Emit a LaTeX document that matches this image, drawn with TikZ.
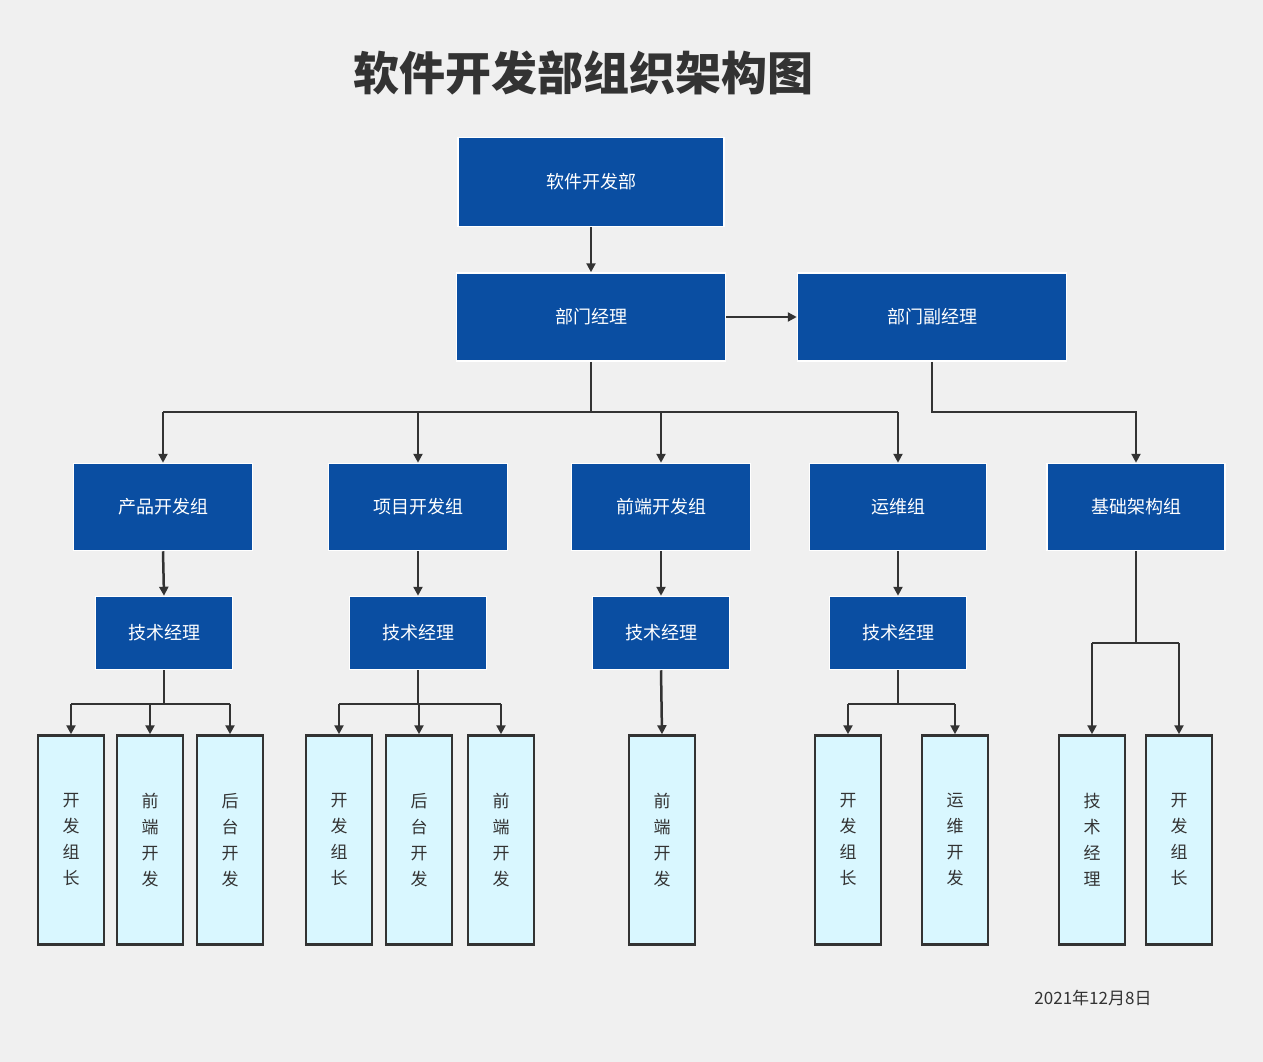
\documentclass[tikz,border=0pt]{standalone}
\usepackage{fontspec}
\setmainfont{Noto Sans CJK SC}
\usetikzlibrary{arrows.meta}
\definecolor{bg}{HTML}{F0F0F0}
\definecolor{blu}{HTML}{0A4EA2}
\definecolor{lite}{HTML}{D9F7FF}
\definecolor{ink}{HTML}{333333}
\tikzset{
  bbox/.style={fill=blu,draw=white,line width=1.5pt,text=white,font=\fontsize{18}{20}\selectfont,inner sep=0pt,anchor=center},
  leaf/.style={fill=lite,draw=ink,line width=2.5pt,text=ink,minimum width=66pt,minimum height=209pt,inner sep=0pt,align=center,font=\fontsize{17}{26}\selectfont},
  conn/.style={draw=ink,line width=2.5pt,-{Triangle[length=9pt,width=9pt]}},
  line/.style={draw=ink,line width=2.5pt}
}
\begin{document}
\begin{tikzpicture}[x=1pt,y=-1pt]
\fill[bg] (0,0) rectangle (1263,1062);
\useasboundingbox (0,0) rectangle (1263,1062);
\node[font=\fontsize{46}{50}\selectfont\bfseries,text=ink] (title) at (583,73) {软件开发部组织架构图};
\node[text=ink,font=\fontsize{17}{20}\selectfont] (date) at (1093,998) {2021年12月8日};
\node[bbox,minimum width=266pt,minimum height=89pt] (a) at (591,182) {软件开发部};
\node[bbox,minimum width=269pt,minimum height=88pt] (b) at (591,317) {部门经理};
\node[bbox,minimum width=269pt,minimum height=88pt] (c) at (932,317) {部门副经理};
\foreach \n/\x/\w/\t in {g1/163/179/产品开发组,g2/418/179/项目开发组,g3/661/179/前端开发组,g4/898/177/运维组,g5/1136/178/基础架构组}
  \node[bbox,minimum width=\w pt,minimum height=87pt] (\n) at (\x,507) {\t};
\foreach \n/\x in {t1/164,t2/418,t3/661,t4/898}
  \node[bbox,minimum width=137pt,minimum height=73pt] (\n) at (\x,633) {技术经理};
\foreach \n/\x/\t in {l1/71/开\\发\\组\\长,l2/150/前\\端\\开\\发,l3/230/后\\台\\开\\发,
  l4/339/开\\发\\组\\长,l5/419/后\\台\\开\\发,l6/501/前\\端\\开\\发,l7/662/前\\端\\开\\发,
  l8/848/开\\发\\组\\长,l9/955/运\\维\\开\\发,l10/1092/技\\术\\经\\理,l11/1179/开\\发\\组\\长}
  \node[leaf] (\n) at (\x,840) {\t};
\draw[conn] (a.south) -- (b.north);
\draw[conn] (b.east) -- (c.west);
\coordinate (bj) at (591,412);
\draw[line] (b.south) -- (bj);
\draw[line] (g1.north |- bj) -- (g4.north |- bj);
\foreach \g in {g1,g2,g3,g4} \draw[conn] (\g.north |- bj) -- (\g.north);
\draw[conn] (c.south) -- (c.south |- bj) -| (g5.north);
\foreach \g/\t in {g1/t1,g2/t2,g3/t3,g4/t4} \draw[conn] (\g.south) -- (\t.north);
\draw[conn] (t3.south) -- (l7.north);
\coordinate (j1) at (164,704);
\draw[line] (t1.south) -- (j1); \draw[line] (l1.north |- j1) -- (l3.north |- j1);
\foreach \l in {l1,l2,l3} \draw[conn] (\l.north |- j1) -- (\l.north);
\coordinate (j2) at (418,704);
\draw[line] (t2.south) -- (j2); \draw[line] (l4.north |- j2) -- (l6.north |- j2);
\foreach \l in {l4,l5,l6} \draw[conn] (\l.north |- j2) -- (\l.north);
\coordinate (j4) at (898,704);
\draw[line] (t4.south) -- (j4); \draw[line] (l8.north |- j4) -- (l9.north |- j4);
\foreach \l in {l8,l9} \draw[conn] (\l.north |- j4) -- (\l.north);
\coordinate (j5) at (1136,643);
\draw[line] (g5.south) -- (j5); \draw[line] (l10.north |- j5) -- (l11.north |- j5);
\foreach \l in {l10,l11} \draw[conn] (\l.north |- j5) -- (\l.north);
\end{tikzpicture}
\end{document}
